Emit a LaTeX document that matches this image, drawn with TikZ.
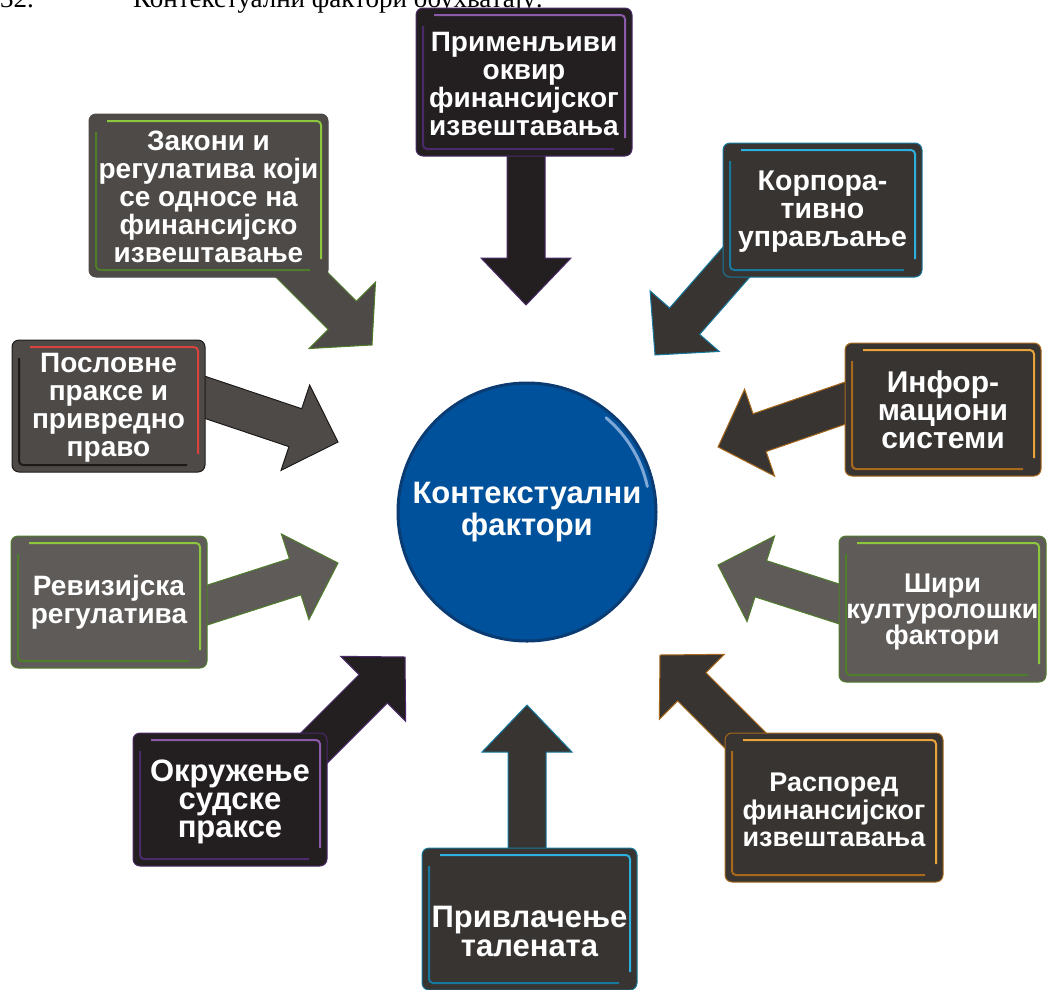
\documentclass[tikz,border=0pt]{standalone}
\usepackage{fontspec}
\setmainfont{Liberation Sans}
\newfontfamily\serifcyr{Liberation Serif}
\usetikzlibrary{calc}

\definecolor{fillA}{HTML}{231F20}
\definecolor{fillB}{HTML}{383431}
\definecolor{fillC}{HTML}{4D4A48}
\definecolor{fillD}{HTML}{5F5B59}
\definecolor{purL}{HTML}{8B5AA8}
\definecolor{purD}{HTML}{4A2A6A}
\definecolor{grnL}{HTML}{8DC63F}
\definecolor{grnD}{HTML}{4F7D2A}
\definecolor{cyaL}{HTML}{2BB0E0}
\definecolor{cyaD}{HTML}{17799E}
\definecolor{redL}{HTML}{D9433F}
\definecolor{redD}{HTML}{1E1A1A}
\definecolor{orgL}{HTML}{E8A33A}
\definecolor{orgD}{HTML}{A8691C}
\definecolor{blueF}{HTML}{00519B}
\definecolor{blueD}{HTML}{0B3B73}
\definecolor{blueH}{HTML}{8FB2DE}

% #1 start, #2 tip, #3 shaft half width, #4 head half width, #5 head length, #6 style
\newcommand\blockarrow[6]{%
  \coordinate (ba-base) at ($(#2)!#5!(#1)$);
  \path[#6] ($(#1)!#3!90:(#2)$) -- ($(ba-base)!#3!90:(#2)$) -- ($(ba-base)!#4!90:(#2)$)
    -- (#2) -- ($(ba-base)!#4!-90:(#2)$) -- ($(ba-base)!#3!-90:(#2)$) -- ($(#1)!#3!-90:(#2)$) -- cycle;
}
% #1 node, #2 light colour, #3 dark colour
\newcommand\accents[3]{%
  \draw[#2, line width=2pt, rounded corners=4pt]
    ([xshift=18pt,yshift=-7pt]#1.north west) -- ([xshift=-7pt,yshift=-7pt]#1.north east)
    -- ([xshift=-7pt,yshift=18pt]#1.south east);
  \draw[#3, line width=2pt, rounded corners=4pt]
    ([xshift=7pt,yshift=-18pt]#1.north west) -- ([xshift=7pt,yshift=7pt]#1.south west)
    -- ([xshift=-18pt,yshift=7pt]#1.south east);
}

\tikzset{
  box/.style={rectangle, rounded corners=7pt, outer sep=0pt, inner sep=0pt, line width=1pt},
  lbl/.style={text=white, align=center, inner sep=0pt, font=\bfseries\fontsize{28}{28}\selectfont},
  arr/.style={line width=1pt, line join=miter},
}

\begin{document}
\begin{tikzpicture}[x=1pt, y=-1pt]
\useasboundingbox (0,0) rectangle (1047,989);

% heading (cut off at the top, as in the source page)
\node[anchor=base west, inner sep=0pt, font=\serifcyr\fontsize{27}{30}\selectfont] (hnum) at (0,7) {32.};
\node[anchor=base west, inner sep=0pt, font=\serifcyr\fontsize{27}{30}\selectfont] (htxt) at (133,7) {Контекстуални фактори обухватају:};

% arrow coordinates
\coordinate (s1) at (526,150);  \coordinate (t1) at (526,305);
\coordinate (s2) at (266,239);  \coordinate (t2) at (372,345);
\coordinate (s3) at (754,242);  \coordinate (t3) at (655,355);
\coordinate (s4) at (195,394);  \coordinate (t4) at (338,442);
\coordinate (s5) at (860,398);  \coordinate (t5) at (718,447);
\coordinate (s6) at (195,609);  \coordinate (t6) at (338,563);
\coordinate (s7) at (861,611);  \coordinate (t7) at (718,565);
\coordinate (s8) at (299,763);  \coordinate (t8) at (405,657);
\coordinate (s9) at (527,860);  \coordinate (t9) at (527,705);
\coordinate (s10) at (766,761); \coordinate (t10) at (660,655);

\blockarrow{s1}{t1}{19pt}{45pt}{47pt}{arr, fill=fillA, draw=purD}
\blockarrow{s2}{t2}{20pt}{47pt}{42pt}{arr, fill=fillC, draw=grnD}
\blockarrow{s3}{t3}{20pt}{46pt}{45pt}{arr, fill=fillB, draw=cyaD}
\blockarrow{s4}{t4}{20pt}{45pt}{45pt}{arr, fill=fillC, draw=redD}
\blockarrow{s5}{t5}{20pt}{46pt}{44pt}{arr, fill=fillB, draw=orgD}
\blockarrow{s6}{t6}{19pt}{45pt}{45pt}{arr, fill=fillD, draw=grnD}
\blockarrow{s7}{t7}{19pt}{45pt}{45pt}{arr, fill=fillD, draw=grnD}
\blockarrow{s8}{t8}{20pt}{46pt}{45pt}{arr, fill=fillA, draw=purD}
\blockarrow{s9}{t9}{19pt}{45pt}{47pt}{arr, fill=fillB, draw=cyaD}
\blockarrow{s10}{t10}{20pt}{46pt}{45pt}{arr, fill=fillB, draw=orgD}

% boxes
\node[box, fill=fillA, draw=purD, minimum width=216pt, minimum height=148pt] (b1) at (524,82) {};
\node[box, fill=fillC, draw=fillC, minimum width=239pt, minimum height=163pt] (b2) at (208.5,195.5) {};
\node[box, fill=fillB, draw=cyaD, minimum width=199pt, minimum height=134pt] (b3) at (822.5,210) {};
\node[box, fill=fillC, draw=redD, minimum width=193pt, minimum height=132pt] (b4) at (108.5,406) {};
\node[box, fill=fillB, draw=orgD, minimum width=196pt, minimum height=133pt] (b5) at (943,409.5) {};
\node[box, fill=fillD, draw=grnD, minimum width=196pt, minimum height=132pt] (b6) at (109,602) {};
\node[box, fill=fillD, draw=grnD, minimum width=207pt, minimum height=146pt] (b7) at (942.5,609) {};
\node[box, fill=fillA, draw=purD, minimum width=194pt, minimum height=133pt] (b8) at (230,799.5) {};
\node[box, fill=fillB, draw=cyaD, minimum width=215pt, minimum height=142pt] (b9) at (529.5,919) {};
\node[box, fill=fillB, draw=orgD, minimum width=218pt, minimum height=149pt] (b10) at (834,807.5) {};

\accents{b1}{purL}{purD}
\accents{b2}{grnL}{grnD}
\accents{b3}{cyaL}{cyaD}
\accents{b4}{redL}{redD}
\accents{b5}{orgL}{orgD}
\accents{b6}{grnL}{grnD}
\accents{b7}{grnL}{grnD}
\accents{b8}{purL}{purD}
\accents{b9}{cyaL}{cyaD}
\accents{b10}{orgL}{orgD}

% labels
\node[lbl, font=\bfseries\fontsize{28}{28}\selectfont] (l1) at (524,84) {Применљиви\\оквир\\финансијског\\извештавања};
\node[lbl, font=\bfseries\fontsize{28}{28}\selectfont] (l2) at (208.5,197) {Закони и\\регулатива који\\се односе на\\финансијско\\извештавање};
\node[lbl, font=\bfseries\fontsize{28.5}{28}\selectfont] (l3) at (822.5,212) {Корпора-\\тивно\\управљање};
\node[lbl, font=\bfseries\fontsize{28}{28}\selectfont] (l4) at (108.5,408) {Пословне\\праксе и\\привредно\\право};
\node[lbl, font=\bfseries\fontsize{30}{28}\selectfont] (l5) at (943,410) {Инфор-\\мациони\\системи};
\node[lbl, font=\bfseries\fontsize{28}{28}\selectfont] (l6) at (109,602) {Ревизијска\\регулатива};
\node[lbl, font=\bfseries\fontsize{27}{26}\selectfont] (l7) at (942.5,612) {Шири\\културолошки\\фактори};
\node[lbl, font=\bfseries\fontsize{31}{28}\selectfont] (l8) at (230,802) {Окружење\\судске\\праксе};
\node[lbl, font=\bfseries\fontsize{31}{29}\selectfont] (l9) at (529.5,931) {Привлачење\\талената};
\node[lbl, font=\bfseries\fontsize{27}{27.5}\selectfont] (l10) at (834,810) {Распоред\\финансијског\\извештавања};

% centre circle
\node[circle, fill=blueF, draw=blueD, line width=3pt, minimum size=258pt, inner sep=0pt] (c) at (527,512) {};
\draw[blueH, line width=3pt, line cap=round, opacity=0.9] ($(c.center)+(-12:123)$) arc[start angle=-12, end angle=-50, radius=123];
\node[lbl, font=\bfseries\fontsize{31}{32}\selectfont] (cl) at (527,512) {Контекстуални\\фактори};
\end{tikzpicture}
\end{document}
